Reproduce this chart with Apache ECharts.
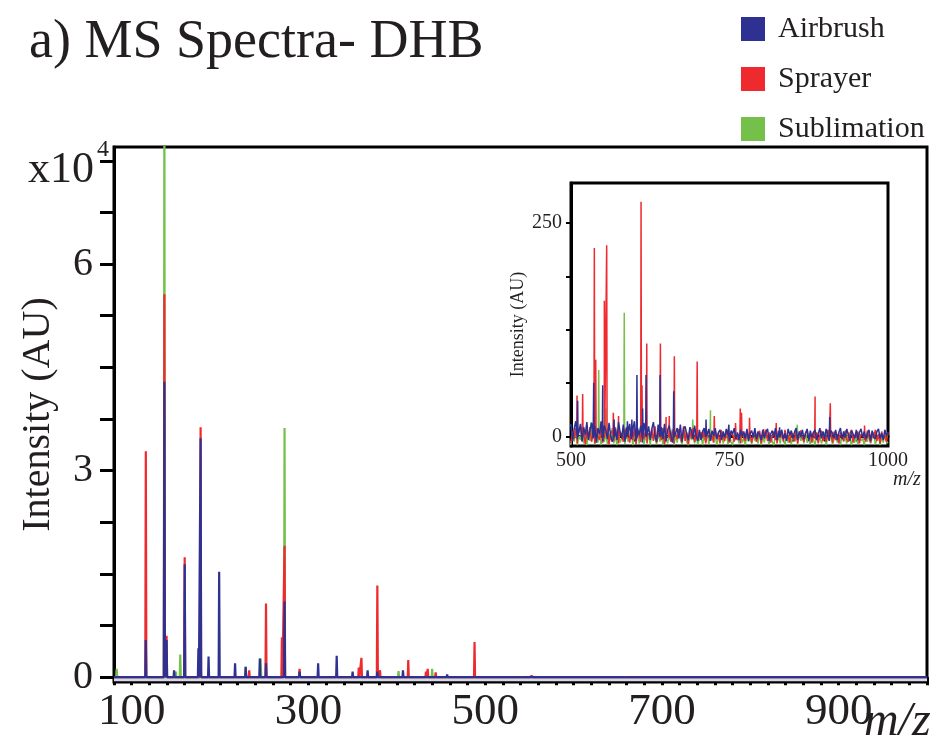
<!DOCTYPE html>
<html><head><meta charset="utf-8">
<script src="https://cdn.jsdelivr.net/npm/echarts@6/dist/echarts.min.js"></script>
<style>html,body{margin:0;padding:0;background:#fff}#c{width:943px;height:744px}</style>
</head><body><div id="c"></div>
<script>
// ---------------- data ----------------
const seriesNames = ['Airbrush', 'Sprayer', 'Sublimation'];
const mainXTickLabels = [100, 300, 500, 700, 900];
const mainYTicks = [0, 7500, 15000, 22500, 30000, 37500, 45000, 52500, 60000, 67500, 75000];
const mainYTickLabels = [0, 30000, 60000];
const insetXTickLabels = [500, 750, 1000];
const insetYTicks = [0, 62.5, 125, 187.5, 250];
const insetYTickLabels = [0, 250];

// main-region peaks (m/z, intensity AU)
const airbrushMz  = [116, 137, 139.5, 148, 160, 175.5, 178, 187, 199, 217, 229, 245, 252, 273, 290, 311, 332, 350, 367, 378, 407, 457];
const airbrushInt = [5400, 42900, 5400, 1000, 16400, 4200, 34700, 3000, 15300, 2000, 1500, 2700, 2000, 11000, 800, 2000, 3100, 800, 1000, 800, 1000, 400];
const sprayerMz   = [116, 137, 139.5, 160, 178, 233, 252, 270, 273, 290, 357, 360, 378, 381, 413, 433, 435, 444, 488];
const sprayerInt  = [32800, 55600, 6000, 17400, 36300, 1000, 10700, 5800, 19100, 1200, 1400, 2800, 13300, 1000, 2500, 800, 1200, 700, 5100];
const sublimationMz  = [83, 137, 150, 155, 160, 178, 229, 246, 273, 402, 440];
const sublimationInt = [1200, 85000, 800, 3300, 700, 2500, 1500, 2700, 36200, 900, 1200];

// high-mass peaks (500-1000, intensity AU) seen in the inset
const airbrushHiMz  = [510.5, 535.8, 550, 568, 589, 596, 604, 613, 618.4, 640.5, 662, 713, 749, 829, 908];
const airbrushHiInt = [42, 63, 60, 20, 18, 20, 72, 33, 72, 72, 53, 20, 14, 11, 23];
const sprayerHiMz   = [509.5, 518.4, 536.8, 539, 552.6, 556.3, 566.8, 575, 610.5, 612, 619.5, 641, 650, 655, 663, 699, 726, 736.8, 759.5, 767, 769, 781.6, 803.7, 823.7, 885, 909, 963];
const sprayerHiInt  = [48, 50, 221, 90, 159, 224, 28, 24, 275, 60, 109, 109, 23, 24, 94, 88, 24, 8, 16, 33, 28, 22, 9, 16, 47, 39, 13];
const sublimationHiMz  = [531.6, 543.7, 555, 584, 692, 720, 857];
const sublimationHiInt = [17, 78, 33, 145, 20, 31, 14];

// baseline noise sampled over 500-1000
const noiseMz = [500,502.5,505,507.5,510,512.5,515,517.5,520,522.5,525,527.5,530,532.5,535,537.5,540,542.5,545,547.5,550,552.5,555,557.5,560,562.5,565,567.5,570,572.5,575,577.5,580,582.5,585,587.5,590,592.5,595,597.5,600,602.5,605,607.5,610,612.5,615,617.5,620,622.5,625,627.5,630,632.5,635,637.5,640,642.5,645,647.5,650,652.5,655,657.5,660,662.5,665,667.5,670,672.5,675,677.5,680,682.5,685,687.5,690,692.5,695,697.5,700,702.5,705,707.5,710,712.5,715,717.5,720,722.5,725,727.5,730,732.5,735,737.5,740,742.5,745,747.5,750,752.5,755,757.5,760,762.5,765,767.5,770,772.5,775,777.5,780,782.5,785,787.5,790,792.5,795,797.5,800,802.5,805,807.5,810,812.5,815,817.5,820,822.5,825,827.5,830,832.5,835,837.5,840,842.5,845,847.5,850,852.5,855,857.5,860,862.5,865,867.5,870,872.5,875,877.5,880,882.5,885,887.5,890,892.5,895,897.5,900,902.5,905,907.5,910,912.5,915,917.5,920,922.5,925,927.5,930,932.5,935,937.5,940,942.5,945,947.5,950,952.5,955,957.5,960,962.5,965,967.5,970,972.5,975,977.5,980,982.5,985,987.5,990,992.5,995,997.5,1000];
const airbrushNoise = [
  14,-5,9,18,-3,6,15,-6,11,2,17,-4,8,16,-2,12,-7,10,3,18,
  -5,13,7,-3,16,1,-6,12,9,-4,17,5,-2,14,-6,11,4,15,-3,8,
  18,-5,10,2,13,-7,16,6,-2,12,-4,9,17,0,-6,14,5,11,-3,15,
  -5,8,13,1,-7,16,4,10,-2,14,-6,9,12,3,-4,11,7,-3,13,0,
  -5,
  8,-4,6,10,-2,4,9,-5,7,1,10,-3,5,8,-4,6,-1,9,2,-5,
  7,3,10,-3,5,-4,8,0,6,-2,9,-5,4,7,-1,10,-3,6,2,-4,
  8,-2,5,9,-5,3,7,-1,10,-4,6,1,8,-3,4,-5,9,2,7,-2,
  5,10,-4,6,0,8,-3,4,9,-5,7,-1,5,8,-4,3,10,-2,6,-3,
  9,1,-5,7,4,-2,8,-4,5,10,-3,6,-1,9,2,-5,7,3,-2,8,
  -4,5,9,-1,6,-3,4,8,-5,7,0,-3,6,9,-2,4,-4,8,1,5];
const sprayerNoise = [
  -7,6,-3,10,-8,2,12,-5,4,-9,8,-2,11,-6,3,-8,9,0,-4,12,
  -7,5,-1,10,-9,4,7,-5,11,-3,-8,6,2,-6,9,-2,12,-7,3,-4,
  10,-9,5,1,-6,11,-3,8,-8,4,-1,9,-5,12,-7,2,6,-4,10,-9,
  3,-2,11,-6,7,-8,4,-3,9,0,-7,12,-5,5,-9,8,-2,10,-6,3,
  -4,
  -6,5,-2,8,-8,3,6,-5,1,-7,7,-3,4,-8,6,0,-5,8,-2,-7,
  5,2,-6,7,-4,3,-8,6,-1,-5,8,-3,4,-7,2,6,-6,0,7,-8,
  3,-2,8,-5,5,-7,1,6,-4,-8,7,-1,4,-6,8,-3,2,-7,5,0,
  -5,6,-8,3,7,-2,-6,4,8,-4,1,-7,6,-3,5,-8,2,7,-5,0,
  -6,8,-2,4,-7,6,-4,3,-8,5,1,-5,7,-3,-6,4,8,-7,2,-1,
  6,-8,3,5,-4,-6,7,0,-7,4,-2,8,-5,3,-8,6,-3,1,-6,5];
const sublimationNoise = [
  -9,4,-6,8,-10,1,-4,10,-8,3,-10,6,-5,-1,9,-9,2,-7,5,-10,
  0,-6,7,-9,3,-4,10,-8,1,-10,5,-7,-2,8,-9,4,-6,-1,9,-10,
  2,-5,6,-8,-3,10,-9,1,-7,4,-10,7,-4,0,-9,5,-6,3,-10,8,
  -2,-8,4,-5,9,-10,1,-7,6,-3,-9,2,8,-6,-10,3,-4,7,-8,0,
  -9,
  -8,3,-10,1,-6,5,-9,-2,4,-7,2,-10,0,-5,4,-8,-1,5,-9,2,
  -6,-10,3,-4,1,-8,5,-7,-2,-10,4,-6,0,-9,3,-5,-1,-8,5,-10,
  1,-7,4,-3,-9,2,-6,-10,3,-5,0,-8,5,-4,-10,2,-7,1,-9,4,
  -6,-2,-10,3,-5,0,-8,5,-7,-3,-9,2,-4,-10,4,-6,1,-8,-2,5,
  -10,0,-5,3,-9,-3,4,-7,1,-10,2,-6,-1,-8,5,-4,-10,3,-7,0,
  -9,4,-5,-2,-10,1,-6,3,-8,-1,5,-9,-3,2,-10,0,-7,4,-5,-8];

// ---------------- build spectra ----------------
function buildSpectrum(mz, inten, hiMz, hiInt, noise) {
  const pts = [[80, 0]];
  const addPeak = (m, h) => { pts.push([m - 0.6, 0], [m, h], [m + 0.6, 0]); };
  mz.forEach((m, i) => addPeak(m, inten[i]));
  hiMz.forEach((m, i) => addPeak(m, hiInt[i]));
  noiseMz.forEach((m, i) => { if (i < noise.length) pts.push([m, noise[i]]); });
  pts.sort((a, b) => a[0] - b[0]);
  return pts;
}
const spectra = {
  Airbrush: buildSpectrum(airbrushMz, airbrushInt, airbrushHiMz, airbrushHiInt, airbrushNoise),
  Sprayer: buildSpectrum(sprayerMz, sprayerInt, sprayerHiMz, sprayerHiInt, sprayerNoise),
  Sublimation: buildSpectrum(sublimationMz, sublimationInt, sublimationHiMz, sublimationHiInt, sublimationNoise)
};
const colors = { Airbrush: '#2e3192', Sprayer: '#ee2a2e', Sublimation: '#74c04a' };
const FONT = "'Liberation Serif','Times New Roman',serif";
const TXT = '#231f20';

const drawOrder = ['Sublimation', 'Sprayer', 'Airbrush'];
const series = [];
drawOrder.forEach((name, k) => {
  series.push({
    name, type: 'line', xAxisIndex: 0, yAxisIndex: 0, data: spectra[name],
    showSymbol: false, symbol: 'none', animation: false, z: 2 + k,
    lineStyle: { color: colors[name], width: 2.2 }, itemStyle: { color: colors[name] },
    markArea: name === 'Airbrush' ? { silent: true, itemStyle: { color: '#d8d8ec' }, data: [[{ yAxis: -600 }, { yAxis: -80 }]] } : undefined
  });
});
drawOrder.forEach((name, k) => {
  series.push({
    name, type: 'line', xAxisIndex: 1, yAxisIndex: 1, data: spectra[name],
    showSymbol: false, symbol: 'none', animation: false, z: 10 + k,
    lineStyle: { color: colors[name], width: 1.5 }, itemStyle: { color: colors[name] }
  });
});

const chart = echarts.init(document.getElementById('c'), null, { renderer: 'canvas' });
chart.setOption({
  backgroundColor: '#fff',
  animation: false,
  title: {
    text: 'a) MS Spectra- DHB', left: 29, top: 16, padding: 0,
    textStyle: { fontFamily: FONT, fontSize: 54, fontWeight: 'normal', color: TXT }
  },
  legend: {
    data: seriesNames, orient: 'vertical', left: 741, top: 14, padding: 0,
    itemWidth: 24, itemHeight: 24, itemGap: 20, icon: 'rect',
    textStyle: { fontFamily: FONT, fontSize: 30, color: TXT, padding: [0, 0, 0, 8] }
  },
  grid: [
    { left: 114, right: 16, top: 147, bottom: 62, show: true, borderColor: '#000', borderWidth: 3, backgroundColor: '#fff', z: 0 },
    { left: 571, right: 55, top: 183, bottom: 298, show: true, borderColor: '#000', borderWidth: 3, backgroundColor: '#fff', z: 8 }
  ],
  xAxis: [
    {
      type: 'value', gridIndex: 0, min: 80, max: 1000, interval: 20,
      axisLine: { lineStyle: { color: '#000', width: 3 } },
      axisTick: { length: 8, lineStyle: { color: '#000', width: 3 } },
      axisLabel: { customValues: mainXTickLabels, margin: 8, fontFamily: FONT, fontSize: 45, color: TXT, formatter: v => String(v) },
      splitLine: { show: false }
    },
    {
      type: 'value', gridIndex: 1, min: 500, max: 1000, interval: 50, z: 9,
      axisLine: { lineStyle: { color: '#000', width: 3 } },
      axisTick: { length: 5, lineStyle: { color: '#000', width: 2 } },
      axisLabel: { customValues: insetXTickLabels, margin: 5, fontFamily: FONT, fontSize: 20, color: TXT, formatter: v => String(v) },
      splitLine: { show: false }
    }
  ],
  yAxis: [
    {
      type: 'value', gridIndex: 0, min: -700, max: 77000,
      axisLine: { show: true, lineStyle: { color: '#000', width: 3 } },
      axisTick: { show: true, customValues: mainYTicks, length: 14, lineStyle: { color: '#000', width: 3 } },
      axisLabel: { customValues: mainYTickLabels, margin: 21, fontFamily: FONT, fontSize: 40, color: TXT, formatter: v => String(v / 10000) },
      splitLine: { show: false },
      name: 'Intensity (AU)', nameLocation: 'middle', nameGap: 56,
      nameTextStyle: { fontFamily: FONT, fontSize: 40, color: TXT }
    },
    {
      type: 'value', gridIndex: 1, min: -11, max: 297, z: 9,
      axisLine: { show: true, lineStyle: { color: '#000', width: 3 } },
      axisTick: { show: true, customValues: insetYTicks, length: 5, lineStyle: { color: '#000', width: 2 } },
      axisLabel: { customValues: insetYTickLabels, margin: 9, fontFamily: FONT, fontSize: 20, color: TXT, formatter: v => String(v) },
      splitLine: { show: false },
      name: 'Intensity (AU)', nameLocation: 'middle', nameGap: 44,
      nameTextStyle: { fontFamily: FONT, fontSize: 18, color: TXT, padding: [0, 20, 0, 0] }
    }
  ],
  graphic: [
    { type: 'text', left: 28, top: 148, z: 20, style: { text: 'x10', font: '44px ' + FONT, fill: TXT } },
    { type: 'text', left: 97, top: 138, z: 20, style: { text: '4', font: '24px ' + FONT, fill: TXT } },
    { type: 'text', left: 864, top: 698, z: 20, style: { text: 'm/z', font: 'italic 48px ' + FONT, fill: TXT } },
    { type: 'text', left: 893, top: 470, z: 20, style: { text: 'm/z', font: 'italic 20px ' + FONT, fill: TXT } }
  ],
  series
});
</script></body></html>
